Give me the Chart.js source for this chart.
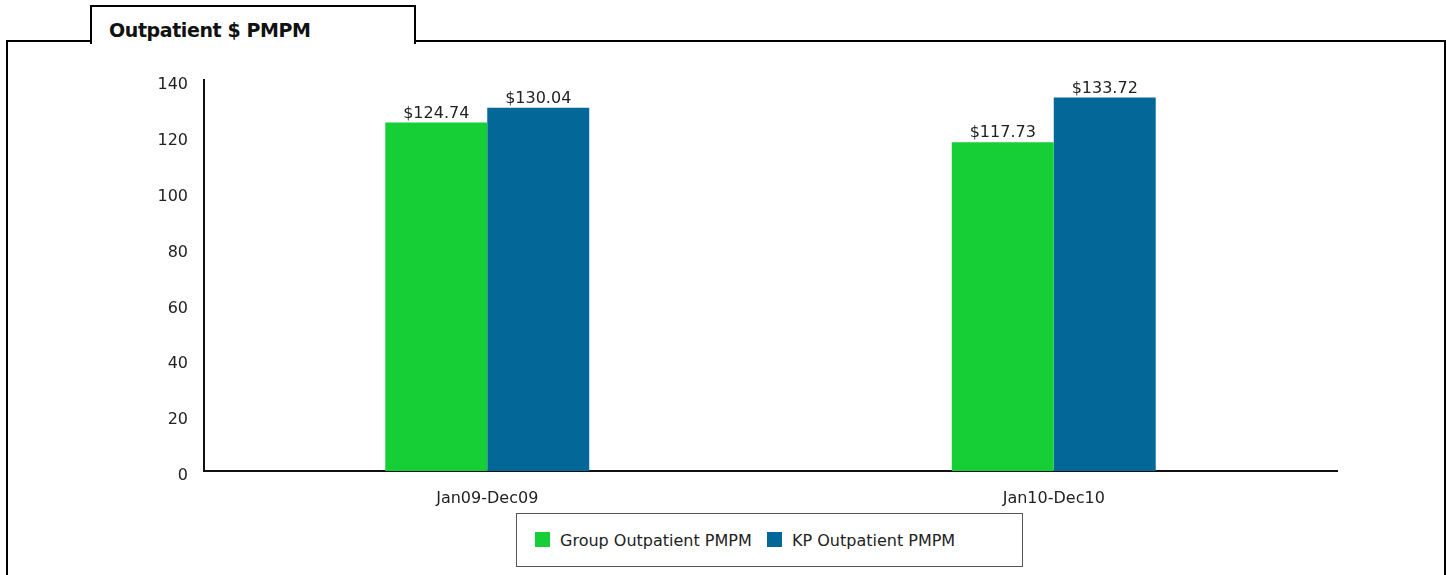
<!DOCTYPE html>
<html>
<head>
<meta charset="utf-8">
<script src="https://cdn.jsdelivr.net/npm/chart.js@4/dist/chart.umd.min.js"></script>
<style>
    body { margin: 0; background: #fff; font-family: "DejaVu Sans", sans-serif; color: #222; }
    #frame { position: absolute; left: 6px; top: 40px; width: 1436px; height: 600px; border: 2px solid #000; }
    #tab { position: absolute; left: 90px; top: 5px; width: 322px; height: 37px; border: 2px solid #000; border-bottom: none; background: #fff; z-index: 2; }
    #tab span { position: absolute; left: 17px; top: 12px; font-weight: bold; font-size: 19px; letter-spacing: -0.4px; color: #111; }
    #chart { position: absolute; left: 0; top: 0; z-index: 3; }
    #legend { position: absolute; left: 516px; top: 513px; width: 505px; height: 52px; border: 1px solid #555; background: #fff; z-index: 4; font-size: 16px; }
    .item { position: absolute; top: 17px; white-space: nowrap; }
    .swatch { display: inline-block; width: 15px; height: 15px; vertical-align: -1px; margin-right: 10px; }
</style>
</head>
<body>
<div id="frame"></div>
<div id="tab"><span>Outpatient $ PMPM</span></div>
<canvas id="chart" width="1447" height="575"></canvas>
<div id="legend"></div>
<script>
const categories = ['Jan09-Dec09', 'Jan10-Dec10'];
const seriesNames = ['Group Outpatient PMPM', 'KP Outpatient PMPM'];
const groupValues = [124.74, 117.73];
const kpValues = [130.04, 133.72];
const seriesColors = ['#16ce36', '#036898'];
const yTicks = [0, 20, 40, 60, 80, 100, 120, 140];

// value labels above each bar
const valueLabels = {
    id: 'valueLabels',
    afterDatasetsDraw(chart) {
        const ctx = chart.ctx;
        ctx.save();
        ctx.font = '16px "DejaVu Sans"';
        ctx.fillStyle = '#222';
        ctx.textAlign = 'center';
        ctx.textBaseline = 'bottom';
        chart.data.datasets.forEach((ds, i) => {
            chart.getDatasetMeta(i).data.forEach((bar, j) => {
                ctx.fillText('$' + ds.data[j].toFixed(2), bar.x, bar.y - 1);
            });
        });
        ctx.restore();
    }
};

const chart = new Chart(document.getElementById('chart'), {
    type: 'bar',
    data: {
        labels: categories,
        datasets: [
            { label: seriesNames[0], data: groupValues, backgroundColor: seriesColors[0] },
            { label: seriesNames[1], data: kpValues, backgroundColor: seriesColors[1] }
        ]
    },
    options: {
        responsive: false,
        devicePixelRatio: 1,
        animation: false,
        layout: { padding: { top: 80, right: 110, bottom: 64, left: 0 } },
        datasets: { bar: { barPercentage: 1, categoryPercentage: 0.36 } },
        plugins: { legend: { display: false }, tooltip: { enabled: false } },
        scales: {
            x: {
                grid: { display: false, drawTicks: false },
                border: { display: true, color: '#111', width: 2 },
                ticks: { color: '#222', font: { family: 'DejaVu Sans', size: 16 }, padding: 18 },
                afterFit: s => { s.height = 40; }
            },
            y: {
                min: 0,
                max: 140,
                afterBuildTicks: s => { s.ticks = yTicks.map(v => ({ value: v })); },
                grid: { display: false, drawTicks: false },
                border: { display: true, color: '#111', width: 2 },
                ticks: { color: '#222', font: { family: 'DejaVu Sans', size: 16 }, padding: 16, labelOffset: 5 },
                afterFit: s => { s.width = 204; }
            }
        }
    },
    plugins: [valueLabels]
});

// legend box
const legend = document.getElementById('legend');
const lefts = [18, 250];
seriesNames.forEach((name, i) => {
    const item = document.createElement('div');
    item.className = 'item';
    item.style.left = lefts[i] + 'px';
    item.innerHTML = '<span class="swatch" style="background:' + seriesColors[i] + '"></span>' + name;
    legend.appendChild(item);
});
</script>
</body>
</html>
